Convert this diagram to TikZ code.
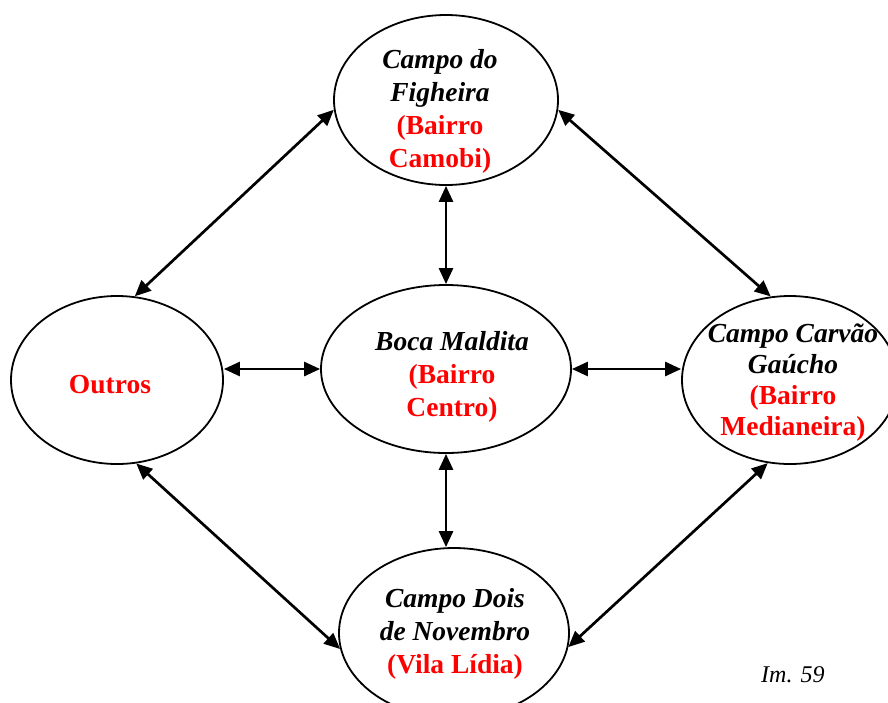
\documentclass[tikz,border=0pt]{standalone}
\usepackage{fontspec}
\setmainfont{Liberation Serif}
\usetikzlibrary{shapes.geometric,arrows.meta}
\definecolor{tred}{RGB}{255,0,0}
\begin{document}
\begin{tikzpicture}[x=1pt,y=-1pt,
  oval/.style={draw=black,ellipse,line width=1.8pt,inner sep=0pt},
  txt/.style={align=center,inner sep=0pt,font=\fontsize{27.5}{33}\selectfont},
  link/.style={line width=2.7pt,{Triangle[length=16pt,width=14pt]}-{Triangle[length=16pt,width=14pt]}}]
\useasboundingbox (0,0) rectangle (888,702);
\node[oval,minimum width=224pt,minimum height=170pt] (nTop) at (446,100) {};
\node[oval,minimum width=250pt,minimum height=168pt] (nMid) at (446,369) {};
\node[oval,minimum width=212pt,minimum height=168pt] (nLeft) at (117,380) {};
\node[oval,minimum width=216pt,minimum height=168pt] (nRight) at (790,380) {};
\node[oval,minimum width=230pt,minimum height=170pt] (nBot) at (454,633) {};
\node[txt] (tTop) at (440,111) {\bfseries\itshape Campo do\\\bfseries\itshape Figheira\\\bfseries\color{tred}(Bairro\\\bfseries\color{tred}Camobi)};
\node[txt] (tMid) at (452,377) {\bfseries\itshape Boca Maldita\\\bfseries\color{tred}(Bairro\\\bfseries\color{tred}Centro)};
\node[txt,text=tred] (tLeft) at (110,385) {\bfseries Outros};
\node[txt,font=\fontsize{27.5}{31}\selectfont] (tRight) at (793,383) {\bfseries\itshape Campo Carvão\\\bfseries\itshape Gaúcho\\\bfseries\color{tred}(Bairro\\\bfseries\color{tred}Medianeira)};
\node[txt] (tBot) at (455,634) {\bfseries\itshape Campo Dois\\\bfseries\itshape de Novembro\\\bfseries\color{tred}(Vila Lídia)};
\node[inner sep=0pt,anchor=base west,font=\fontsize{24}{28}\selectfont\itshape] (im) at (761,682) {Im. 59};
\draw[link] (nTop.south) -- (nMid.north);
\draw[link] (nMid.south) -- (nMid.south |- nBot.north);
\draw[link] (nLeft.east |- nMid.west) -- (nMid.west);
\draw[link] (nMid.east) -- (nRight.west |- nMid.east);
\draw[link] (nTop.185) -- (nLeft.78);
\draw[link] (nTop.355) -- (nRight.103);
\draw[link] (nLeft.283) -- (nBot.188);
\draw[link] (nRight.255) -- (nBot.353);
\end{tikzpicture}
\end{document}
